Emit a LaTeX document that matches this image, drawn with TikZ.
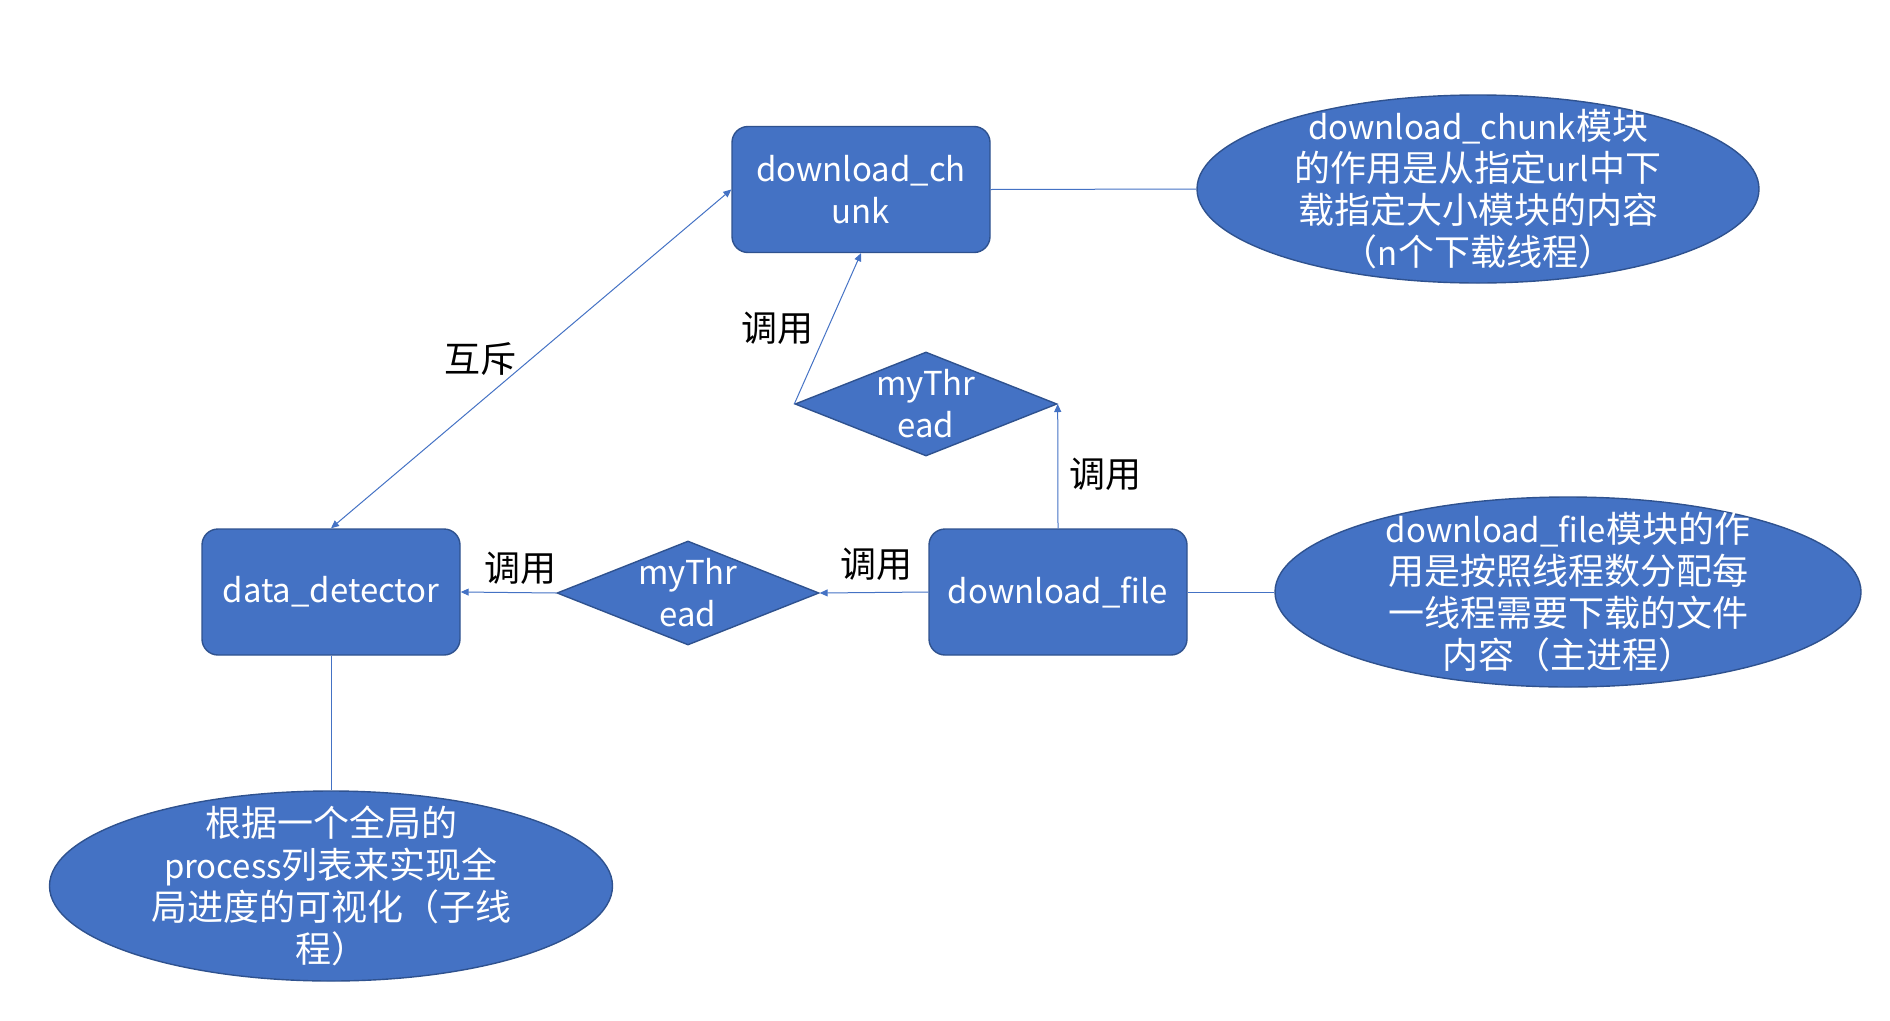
\documentclass[tikz,border=0pt]{standalone}
\usepackage{fontspec}
\setmainfont{Noto Sans CJK SC}
\newfontfamily\latfont[Scale=0.915]{Noto Sans CJK SC}
\newcommand{\lt}[1]{{\latfont #1}}
\usetikzlibrary{shapes.geometric,arrows.meta}
\definecolor{boxfill}{HTML}{4472C4}
\definecolor{boxline}{HTML}{2F528F}
\definecolor{conn}{HTML}{4472C4}
\tikzset{
  base/.style={fill=boxfill,draw=boxline,line width=1.4pt,text=white,align=center,
    font=\fontsize{36}{42}\selectfont},
  rbox/.style={base,rectangle,rounded corners=16pt,minimum width=258pt,minimum height=126pt,inner sep=0pt},
  dia/.style={base,diamond,minimum width=262pt,minimum height=104pt,inner sep=0pt},
  ell/.style={base,ellipse,inner sep=0pt},
  ltxt/.style={text=white,align=center,font=\fontsize{36}{42}\selectfont},
  lbl/.style={text=black,font=\fontsize{36}{40}\selectfont},
  line/.style={draw=conn,line width=1pt},
  arr/.style={line,-{Triangle[length=8pt,width=7pt]}},
  darr/.style={line,{Triangle[length=8pt,width=7pt]}-{Triangle[length=8pt,width=7pt]}}
}
\begin{document}
\begin{tikzpicture}[x=1pt,y=-1pt]
\useasboundingbox (0,0) rectangle (1890,1020);
% boxes
\node[rbox] (dc) at (861,189.5) {\lt{download\_ch}\\\lt{unk}};
\node[rbox] (dd) at (331,592) {\lt{data\_detector}};
\node[rbox] (df) at (1058,592) {\lt{download\_file}};
% diamonds
\node[dia,label={[ltxt]center:\lt{myThr}\\\lt{ead}}] (m1) at (926,404) {};
\node[dia,label={[ltxt]center:\lt{myThr}\\\lt{ead}}] (m2) at (688,593) {};
% ellipses
\node[ell,minimum width=562pt,minimum height=188pt,
  label={[ltxt]center:\lt{download\_chunk}模块\\的作用是从指定\lt{url}中下\\载指定大小模块的内容\\（\lt{n}个下载线程）}] (e1) at (1478,189) {};
\node[ell,minimum width=586pt,minimum height=190pt,
  label={[ltxt]center:\lt{download\_file}模块的作\\用是按照线程数分配每\\一线程需要下载的文件\\内容（主进程）}] (e2) at (1568,592) {};
\node[ell,minimum width=563pt,minimum height=190pt,
  label={[ltxt]center:根据一个全局的\\\lt{process}列表来实现全\\局进度的可视化（子线\\程）}] (e3) at (331,886) {};
% connectors
\draw[line] (dc.east) -- (e1.west);
\draw[line] (df.east) -- (e2.west);
\draw[line] (dd.south) -- (e3.north);
\draw[darr] (dd.north) -- (dc.west);
\draw[arr] (m1.west) -- (dc.south);
\draw[arr] (df.north) -- (m1.east);
\draw[arr] (df.west) -- (m2.east);
\draw[arr] (m2.west) -- (dd.east);
% labels
\node[lbl] (l1) at (480,359) {互斥};
\node[lbl] (l2) at (777,328) {调用};
\node[lbl] (l3) at (1105,474) {调用};
\node[lbl] (l4) at (520,568) {调用};
\node[lbl] (l5) at (876,564) {调用};
\end{tikzpicture}
\end{document}
